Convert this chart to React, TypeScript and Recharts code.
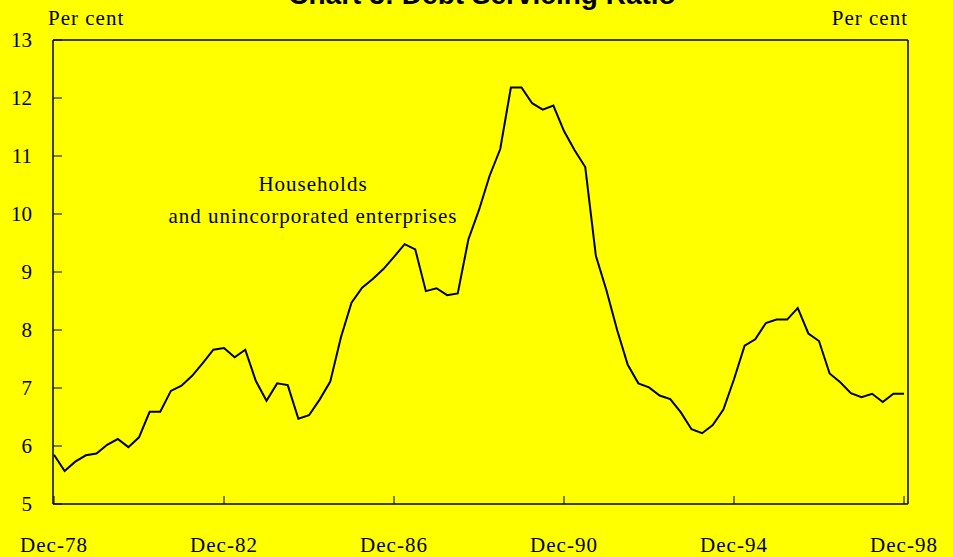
import { LineChart, Line, XAxis, YAxis, ReferenceLine } from 'recharts';

const YEARS = [78, 79, 80, 81, 82, 83, 84, 85, 86, 87, 88, 89, 90, 91, 92, 93, 94, 95, 96, 97, 98];
const MONTHS = ['Mar', 'Jun', 'Sep', 'Dec'];

// quarterly categories, Dec-78 .. Dec-98
const QUARTERS: string[] = ['Dec-78'];
YEARS.slice(1).forEach((y) => MONTHS.forEach((m) => QUARTERS.push(`${m}-${y}`)));

const DEBT_RATIO = [
  5.85, 5.57, 5.73, 5.84, 5.87, 6.02, 6.12, 5.98, 6.15, 6.59,
  6.59, 6.95, 7.04, 7.21, 7.43, 7.66, 7.69, 7.53, 7.66, 7.12,
  6.78, 7.08, 7.05, 6.47, 6.53, 6.8, 7.11, 7.87, 8.47, 8.73,
  8.88, 9.05, 9.26, 9.48, 9.39, 8.67, 8.72, 8.6, 8.63, 9.56,
  10.07, 10.66, 11.12, 12.18, 12.18, 11.91, 11.8, 11.87, 11.43, 11.1,
  10.81, 9.28, 8.68, 8.0, 7.4, 7.08, 7.01, 6.87, 6.81, 6.58,
  6.29, 6.22, 6.36, 6.63, 7.15, 7.73, 7.84, 8.12, 8.18, 8.18,
  8.38, 7.94, 7.81, 7.25, 7.1, 6.91, 6.84, 6.9, 6.76, 6.9,
  6.9,
];

const Y_TICKS = [5, 6, 7, 8, 9, 10, 11, 12, 13];

const data = QUARTERS.map((q, i) => ({ q, v: DEBT_RATIO[i] }));

const serif = '"Liberation Serif", "Times New Roman", serif';
const tickFont = { fontFamily: serif, fontSize: 21, fill: '#000' };

export default function App() {
  return (
    <div style={{ position: 'absolute', left: 0, top: 0, width: 953, height: 557, background: '#ffff00', overflow: 'hidden' }}>
      <div
        style={{
          position: 'absolute', left: 0, width: 964, top: -19, textAlign: 'center',
          fontFamily: '"Liberation Sans", Arial, sans-serif', fontWeight: 'bold', fontSize: 28, lineHeight: '28px',
        }}
      >
        Chart 3: Debt Servicing Ratio
      </div>
      <div style={{ position: 'absolute', left: 48, top: 8, fontFamily: serif, fontSize: 21, lineHeight: '21px', letterSpacing: 1 }}>
        Per cent
      </div>
      <div style={{ position: 'absolute', right: 45, top: 8, fontFamily: serif, fontSize: 21, lineHeight: '21px', letterSpacing: 1 }}>
        Per cent
      </div>
      <LineChart width={953} height={557} data={data} margin={{ top: 40, right: 0, bottom: 0, left: 0 }}>
        <XAxis
          dataKey="q"
          interval={15}
          height={53}
          padding={{ left: 1, right: 4 }}
          tickSize={-8}
          tickMargin={41}
          tick={{ ...tickFont, letterSpacing: 1 }}
          axisLine={{ stroke: '#000', strokeWidth: 1.5 }}
          tickLine={{ stroke: '#000' }}
        />
        <YAxis
          yAxisId="left"
          domain={[5, 13]}
          ticks={Y_TICKS}
          interval={0}
          width={53}
          tickSize={-9}
          tickMargin={30}
          tick={tickFont}
          axisLine={{ stroke: '#000', strokeWidth: 1.5 }}
          tickLine={{ stroke: '#000' }}
        />
        <YAxis
          yAxisId="right"
          orientation="right"
          domain={[5, 13]}
          ticks={Y_TICKS}
          interval={0}
          width={45}
          tickSize={-9}
          tickMargin={29}
          tick={tickFont}
          axisLine={{ stroke: '#000', strokeWidth: 1.5 }}
          tickLine={{ stroke: '#000' }}
        />
        <ReferenceLine yAxisId="left" y={13} stroke="#000" strokeWidth={1.5} />
        <Line
          yAxisId="left"
          type="linear"
          dataKey="v"
          stroke="#000"
          strokeWidth={2}
          dot={false}
          isAnimationActive={false}
        />
      </LineChart>
      <div
        style={{
          position: 'absolute', left: 113, width: 400, top: 168, textAlign: 'center',
          fontFamily: serif, fontSize: 21, lineHeight: '32px', letterSpacing: 1,
        }}
      >
        Households
        <br />
        and unincorporated enterprises
      </div>
    </div>
  );
}
